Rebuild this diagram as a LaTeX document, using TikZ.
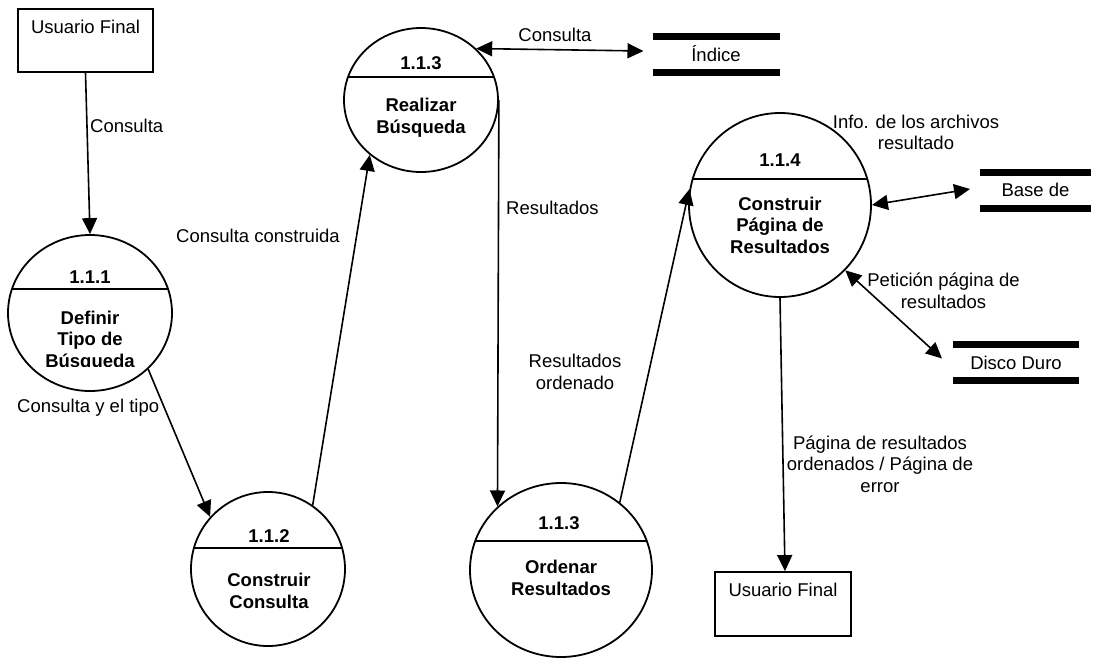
\documentclass[tikz,border=0pt]{standalone}
\usepackage{fontspec}
\setmainfont{Liberation Sans}
\usetikzlibrary{shapes.geometric,arrows.meta}
\begin{document}
\begin{tikzpicture}[x=1pt,y=-1pt,
  every node/.style={font=\fontsize{18.5}{21.5}\selectfont, inner sep=0pt, align=center},
  proc/.style n args={3}{ellipse, draw, line width=1.8pt, minimum width=#1, minimum height=#2,
    path picture={\draw[line width=1.8pt] ([yshift=#3]path picture bounding box.west) -- ([yshift=#3]path picture bounding box.east);}},
  ext/.style 2 args={rectangle, draw, line width=1.8pt, minimum width=#1, minimum height=#2},
  store/.style={rectangle, minimum width=#1, minimum height=36pt, outer sep=0pt},
  sline/.style={line width=7pt},
  flow/.style={line width=1.6pt, -{Triangle[length=16pt,width=15pt]}},
  bi/.style={line width=1.6pt, {Triangle[length=16pt,width=15pt]}-{Triangle[length=16pt,width=15pt]}},
  bold/.style={font=\fontsize{18.5}{21.5}\selectfont\bfseries}
]
\useasboundingbox (0,0) rectangle (1104,657);

% external entities
\node[ext={135pt}{63pt}] (uf1) at (85.5,40.5) {};
\node (uf1t) at (85.5,27) {Usuario Final};
\node[ext={136pt}{64pt}] (uf2) at (783,604) {};
\node (uf2t) at (783,590) {Usuario Final};

% processes
\node[proc={164pt}{156pt}{24pt}] (p111) at (90,313) {};
\node[bold] (n111) at (90,277) {1.1.1};
\begin{scope}
\clip (0,0) rectangle (200,366);
\node[bold] (t111) at (90,341) {Definir\\Tipo de\\Búsqueda};
\end{scope}

\node[proc={154pt}{154pt}{21pt}] (p112) at (268,569) {};
\node[bold] (n112) at (269,536) {1.1.2};
\node[bold] (t112) at (269,591) {Construir\\Consulta};

\node[proc={154pt}{144pt}{23pt}] (p113a) at (421,100) {};
\node[bold] (n113a) at (421,63) {1.1.3};
\node[bold] (t113a) at (421,117.5) {Realizar\\Búsqueda};

\node[proc={182pt}{174pt}{29pt}] (p113b) at (561,570) {};
\node[bold] (n113b) at (559,523) {1.1.3};
\node[bold] (t113b) at (561,578) {Ordenar\\Resultados};

\node[proc={182pt}{184pt}{26pt}] (p114) at (780,205) {};
\node[bold] (n114) at (780,160) {1.1.4};
\node[bold] (t114) at (780,225) {Construir\\Página de\\Resultados};

% data stores
\node[store=127pt] (idx) at (716,54) {Índice};
\draw[sline] (idx.north west) -- (idx.north east) (idx.south west) -- (idx.south east);
\node[store=111pt] (bd) at (1035.5,190) {Base de};
\draw[sline] (bd.north west) -- (bd.north east) (bd.south west) -- (bd.south east);
\node[store=126pt] (dd) at (1016,362.5) {Disco Duro};
\draw[sline] (dd.north west) -- (dd.north east) (dd.south west) -- (dd.south east);

% flows
\draw[flow] (uf1.south) -- (p111.north);
\node[anchor=west] (l1) at (90,126) {Consulta};

\draw[flow] (p111.-44.5) -- (p112.138);
\node[anchor=west] (l2) at (17,408) {Consulta y el tipo};

\draw[flow] (p112.55) -- (p113a.227.5);
\node (l3) at (258,236) {Consulta construida};

\draw[flow] (p113a.east) -- (p113b.135);
\node[anchor=west] (l4) at (506,208) {Resultados};

\draw[flow] (p113b.49.3) -- (p114.170.7);
\node (l5) at (575,372) {Resultados\\ordenado};

\draw[flow] (p114.south) -- ([xshift=2pt]uf2.north);
\node (l6) at (880,464) {Página de resultados\\ordenados / Página de\\error};

\draw[bi] (p113a.43.4) -- ([shift={(-9,-3)}]idx.west);
\node (l7) at (555,35) {Consulta};

\draw[bi] (p114.east) -- ([shift={(-10,-1)}]bd.west);
\node (l8) at (916,132.5) {Info. de los archivos\\resultado};

\draw[bi] (p114.-45.9) -- ([shift={(-11,-4)}]dd.west);
\node (l9) at (943.5,291) {Petición página de\\resultados};
\end{tikzpicture}
\end{document}
